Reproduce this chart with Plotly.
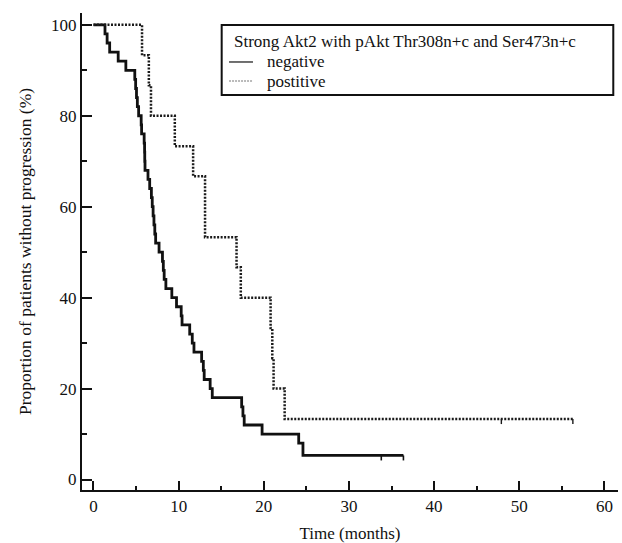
import plotly.graph_objects as go

# Kaplan-Meier progression-free curves (time in months, % without progression)
neg_time = [0, 1.35, 1.6, 1.9, 2.9, 3.8, 4.85, 4.95, 5.05, 5.15, 5.3, 5.6, 5.65,
            5.95, 6.0, 6.02, 6.05, 6.4, 6.6, 6.8, 6.9, 7.0, 7.1, 7.2, 7.3, 7.7,
            8.1, 8.2, 8.3, 8.5, 9.2, 9.75, 10.3, 10.4, 11.3, 11.6, 11.8, 12.7,
            12.9, 13.0, 13.7, 13.95, 17.4, 17.55, 17.7, 19.8, 24.1, 24.6, 36.4]
neg_surv = [100, 98, 96, 94, 92, 90, 88, 86, 84, 82, 80, 78, 76,
            74, 72, 70, 68, 66, 64, 62, 60, 58, 56, 54, 52, 50,
            48, 46, 44, 42, 40, 38, 36, 34, 32, 30, 28, 26,
            24, 22, 20, 18, 16, 14, 12, 10, 8, 5.3, 5.3]
neg_censor = [33.8, 36.4]

pos_time = [0, 5.7, 6.5, 6.75, 9.55, 11.7, 13.1, 16.8, 17.3, 20.8, 21.0,
            21.15, 22.45, 56.3]
pos_surv = [100, 93.3, 86.7, 80, 73.3, 66.7, 53.3, 46.7, 40, 33.3, 26.7,
            20, 13.3, 13.3]
pos_censor = [47.9, 56.3]

x_ticks = [0, 10, 20, 30, 40, 50, 60]
y_ticks = [0, 20, 40, 60, 80, 100]

legend_title = "Strong Akt2 with pAkt Thr308n+c and Ser473n+c"
group_names = ["negative", "postitive"]

FONT = "Liberation Serif"
INK = "#111111"
NEG_STYLE = dict(color=INK, width=2.8)
POS_STYLE = dict(color="#1a1a1a", width=2.5, dash="2px,1.5px")


def censor_marks(times, surv_times, surv_vals, drop=1.1):
    """Short downward ticks at censored times, on the current survival level."""
    xs, ys = [], []
    for t in times:
        level = surv_vals[0]
        for st, sv in zip(surv_times, surv_vals):
            if st <= t:
                level = sv
        xs += [t, t, None]
        ys += [level, level - drop, None]
    return xs, ys


fig = go.Figure()

fig.add_trace(go.Scatter(x=neg_time, y=neg_surv, mode="lines", line_shape="hv",
                         line=NEG_STYLE, name=group_names[0],
                         showlegend=False, hoverinfo="skip"))
cx, cy = censor_marks(neg_censor, neg_time, neg_surv)
fig.add_trace(go.Scatter(x=cx, y=cy, mode="lines",
                         line=dict(color=INK, width=1.6),
                         showlegend=False, hoverinfo="skip"))

fig.add_trace(go.Scatter(x=pos_time, y=pos_surv, mode="lines", line_shape="hv",
                         line=POS_STYLE, name=group_names[1],
                         showlegend=False, hoverinfo="skip"))
cx, cy = censor_marks(pos_censor, pos_time, pos_surv)
fig.add_trace(go.Scatter(x=cx, y=cy, mode="lines",
                         line=dict(color="#1a1a1a", width=1.4),
                         showlegend=False, hoverinfo="skip"))

axis_common = dict(
    showline=True, linecolor=INK, linewidth=2, showgrid=False, zeroline=False,
    ticks="inside", tickcolor=INK, tickwidth=2,
    tickfont=dict(family=FONT, size=17, color=INK),
)

fig.update_xaxes(
    **axis_common, range=[-1.35, 61.6], tickvals=x_ticks, ticklen=9,
    minor=dict(ticks="inside", dtick=5, tick0=0, ticklen=4, tickwidth=1.5,
               tickcolor=INK),
    title=dict(text="Time (months)", font=dict(family=FONT, size=17, color=INK),
               standoff=12),
)
fig.update_yaxes(
    **axis_common, range=[-2.3, 102.6], tickvals=y_ticks, ticklen=10,
    minor=dict(ticks="inside", dtick=10, tick0=0, ticklen=5, tickwidth=1.5,
               tickcolor=INK),
    title=dict(text="Proportion of patients without progression (%)",
               font=dict(family=FONT, size=17.5, color=INK), standoff=15),
)

# boxed key in the upper right: title, then one sample line per group
box_x0, box_x1, box_y0, box_y1 = 0.2606, 0.9912, 0.8281, 0.9748
key_text_x = 0.3414
key_line_x = (0.2743, 0.3190)
key_rows_y = [0.8973, 0.8574]
key_lines = [dict(color=INK, width=1.2), dict(color="#777777", width=1.2, dash="2px,1px")]

shapes = [dict(type="rect", xref="paper", yref="paper",
               x0=box_x0, x1=box_x1, y0=box_y0, y1=box_y1,
               line=dict(color=INK, width=2), fillcolor="rgba(0,0,0,0)")]
annotations = [dict(text=legend_title, xref="paper", yref="paper",
                    x=0.2793, y=0.9398, xanchor="left", yanchor="middle",
                    showarrow=False, font=dict(family=FONT, size=17, color=INK))]
for name, yy, ln in zip(group_names, key_rows_y, key_lines):
    shapes.append(dict(type="line", xref="paper", yref="paper",
                       x0=key_line_x[0], x1=key_line_x[1], y0=yy, y1=yy, line=ln))
    annotations.append(dict(text=name, xref="paper", yref="paper",
                            x=key_text_x, y=yy, xanchor="left", yanchor="middle",
                            showarrow=False,
                            font=dict(family=FONT, size=17, color=INK)))

fig.update_layout(
    width=622, height=543,
    margin=dict(l=82, r=4, t=13, b=53),
    paper_bgcolor="white", plot_bgcolor="white",
    font=dict(family=FONT, color=INK),
    showlegend=False,
    shapes=shapes,
    annotations=annotations,
)

fig.write_html("out.html")
